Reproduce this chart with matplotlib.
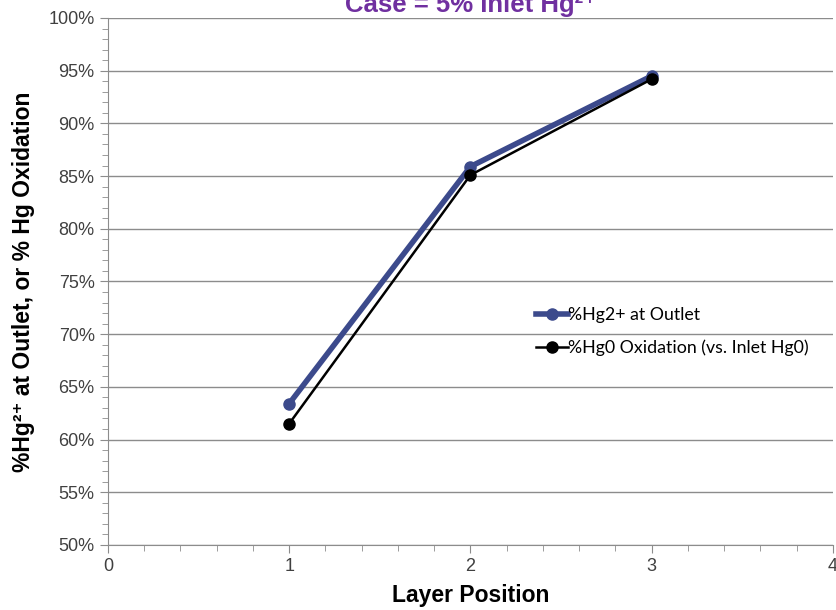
import matplotlib
matplotlib.use("Agg")
import matplotlib.pyplot as plt
from matplotlib.ticker import MultipleLocator, PercentFormatter

# ---------- data ----------
layer = [1, 2, 3]
hg2_outlet = [63.4, 85.9, 94.5]        # %Hg2+ at Outlet
hg0_oxidation = [61.5, 85.1, 94.2]     # %Hg0 Oxidation (vs. Inlet Hg0)

ARIAL = ["Liberation Sans", "DejaVu Sans"]
LEG_FONT = ["Lato", "DejaVu Sans"]

fig = plt.figure(figsize=(8.36, 6.10), dpi=100)
ax = fig.add_axes([0.129, 0.1066, 0.8674, 0.8639])

ax.plot(layer, hg2_outlet, color="#3c4a8c", lw=4, marker="o", ms=8,
        label="%Hg2+ at Outlet", zorder=3)
ax.plot(layer, hg0_oxidation, color="black", lw=1.8, marker="o", ms=8,
        label="%Hg0 Oxidation (vs. Inlet Hg0)", zorder=4)

ax.set_xlim(0, 4)
ax.set_ylim(50, 100)
ax.xaxis.set_major_locator(MultipleLocator(1))
ax.xaxis.set_minor_locator(MultipleLocator(0.2))
ax.yaxis.set_major_locator(MultipleLocator(5))
ax.yaxis.set_minor_locator(MultipleLocator(1))
ax.yaxis.set_major_formatter(PercentFormatter(decimals=0))
ax.grid(axis="y", which="major", color="#8c8c8c", lw=1)
ax.set_axisbelow(True)

for s in ["top", "right"]:
    ax.spines[s].set_visible(False)
for s in ["left", "bottom"]:
    ax.spines[s].set_color("#8c8c8c")
ax.tick_params(which="both", color="#8c8c8c", direction="out")
ax.tick_params(which="major", length=6, labelsize=13, labelcolor="#404040")
ax.tick_params(which="minor", length=4)
for lab in ax.get_xticklabels() + ax.get_yticklabels():
    lab.set_family(ARIAL)

ax.set_xlabel("Layer Position", fontsize=16.5, fontweight="bold",
              family=ARIAL, labelpad=6)
ax.set_ylabel("%Hg²⁺ at Outlet, or % Hg Oxidation", fontsize=16.5,
              fontweight="bold", family=ARIAL, labelpad=10)

fig.text(0.563, 1 - 12 / 610, "Case = 5% Inlet Hg²⁺", color="#7030a0",
         fontsize=18.5, fontweight="bold", family=ARIAL,
         ha="center", va="baseline")

leg = ax.legend(loc="center left", bbox_to_anchor=(0.568, 0.405), frameon=False,
                handlelength=1.8, handletextpad=0.0, labelspacing=0.9,
                prop={"family": LEG_FONT, "size": 12.8})

fig.savefig("out.png", dpi=100)
